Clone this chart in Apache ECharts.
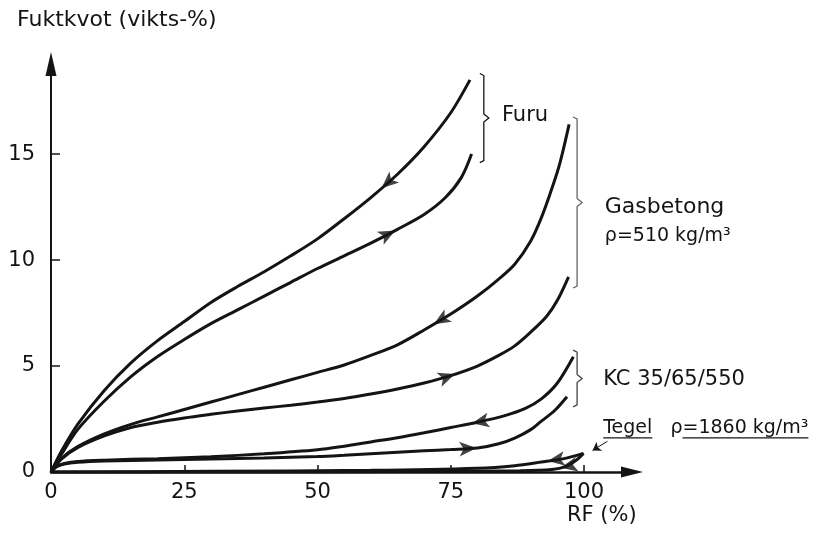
<!DOCTYPE html>
<html>
<head>
<meta charset="utf-8">
<script src="https://cdn.jsdelivr.net/npm/echarts@6/dist/echarts.min.js"></script>
<style>
  html, body { margin: 0; padding: 0; background: #fff; }
  #chart { width: 813px; height: 534px; }
</style>
</head>
<body>
<div id="chart"></div>
<script>
// tick labels
const xTickLabels = [0, 25, 50, 75, 100]
const yTickLabels = [0, 5, 10, 15]

// sorption curves, [RF %, fuktkvot vikts-%]
const furuDes = [[0, 0], [2, 1.0], [5, 2.25], [10, 3.85], [15, 5.15], [20, 6.2], [25, 7.1], [30, 8.0], [35, 8.75], [40, 9.45], [45, 10.2], [50, 11.0], [55, 11.95], [60, 12.95], [65, 14.05], [70, 15.35], [75, 16.95], [78.6, 18.5]]
const furuAbs = [[0, 0], [2, 0.85], [5, 2.0], [10, 3.35], [15, 4.5], [20, 5.45], [25, 6.25], [30, 7.0], [35, 7.65], [40, 8.3], [45, 8.95], [50, 9.6], [55, 10.2], [60, 10.8], [65, 11.45], [70, 12.15], [74, 12.95], [77, 13.9], [78.9, 15.0]]
const gasDes = [[0, 0], [2, 0.65], [5, 1.2], [10, 1.8], [15, 2.25], [20, 2.6], [25, 2.95], [30, 3.3], [35, 3.65], [40, 4.0], [45, 4.35], [50, 4.7], [55, 5.05], [60, 5.5], [65, 6.0], [70, 6.7], [75, 7.45], [80, 8.3], [84, 9.1], [87, 9.8], [90, 10.9], [92, 12.0], [94, 13.4], [95.5, 14.6], [97.2, 16.4]]
const gasAbs = [[0, 0], [2, 0.62], [5, 1.15], [10, 1.7], [15, 2.1], [20, 2.35], [25, 2.55], [30, 2.72], [35, 2.88], [40, 3.02], [45, 3.15], [50, 3.3], [55, 3.47], [60, 3.68], [65, 3.92], [70, 4.2], [75, 4.55], [80, 5.0], [84, 5.5], [87, 5.95], [90, 6.6], [93, 7.35], [95, 8.1], [97.1, 9.21]]
const kcDes = [[0, 0], [1, 0.25], [2.5, 0.4], [5, 0.5], [10, 0.56], [20, 0.63], [30, 0.72], [40, 0.86], [50, 1.05], [55, 1.22], [60, 1.42], [65, 1.62], [70, 1.85], [75, 2.1], [80, 2.35], [85, 2.65], [89, 3.0], [92, 3.45], [95, 4.2], [98, 5.44]]
const kcAbs = [[0, 0], [1, 0.25], [2.5, 0.38], [5, 0.46], [10, 0.52], [20, 0.57], [30, 0.61], [40, 0.66], [50, 0.73], [55, 0.79], [60, 0.86], [65, 0.93], [70, 1.0], [75, 1.06], [80, 1.13], [84, 1.33], [87, 1.6], [90, 2.0], [92, 2.4], [94.5, 2.9], [96.8, 3.55]]
const tegelDes = [[0, 0], [30, 0.03], [60, 0.08], [80, 0.18], [87, 0.3], [92, 0.47], [96, 0.62], [99.9, 0.88]]
const tegelAbs = [[0, 0], [40, 0], [70, 0.03], [88, 0.06], [94, 0.12], [96.5, 0.25], [98.5, 0.55], [99.9, 0.88]]

const curveData = { furuDes, furuAbs, gasDes, gasAbs, kcDes, kcAbs, tegelDes, tegelAbs }

// direction arrows: [curve, RF at arrow, +1 = towards higher RF]
const arrowSpots = [
  ['furuDes', 62.0, -1],
  ['furuAbs', 64.6, 1],
  ['gasDes', 71.8, -1],
  ['gasAbs', 75.8, 1],
  ['kcDes', 79.0, -1],
  ['kcAbs', 79.8, 1],
  ['tegelDes', 93.2, -1],
  ['tegelAbs', 95.6, -1],
]

const INK = '#141414'
const FONT = '"DejaVu Sans", sans-serif'

const dom = document.getElementById('chart')
const chart = echarts.init(dom, null, { renderer: 'canvas' })

let option = {
  animation: false,
  backgroundColor: '#fff',
  title: [
    { text: 'Fuktkvot (vikts-%)', left: 17, top: 9, padding: 0,
      textStyle: { fontFamily: FONT, fontWeight: 'normal', fontSize: 22, color: INK } },
    { text: 'RF (%)', left: 567, top: 505, padding: 0,
      textStyle: { fontFamily: FONT, fontWeight: 'normal', fontSize: 21, color: INK } },
  ],
  grid: { left: 51, right: 181, top: 64, bottom: 62, containLabel: false, outerBoundsMode: 'none' },
  xAxis: {
    type: 'value', min: 0, max: 109, interval: 25,
    splitLine: { show: false },
    axisLine: { show: true, lineStyle: { color: INK, width: 2.5 }, symbol: ['none', 'triangle'], symbolSize: [11, 22] },
    axisTick: { show: true, inside: true, length: 7, lineStyle: { color: INK, width: 1.5 } },
    axisLabel: {
      margin: 10, fontFamily: FONT, fontSize: 21, color: INK, showMaxLabel: false,
      formatter: (v) => (xTickLabels.includes(v) ? String(v) : ''),
    },
  },
  yAxis: {
    type: 'value', min: 0, max: 19.25, interval: 5,
    splitLine: { show: false },
    axisLine: { show: true, lineStyle: { color: INK, width: 2 }, symbol: ['none', 'triangle'], symbolSize: [11, 24] },
    axisTick: { show: true, inside: true, length: 9, lineStyle: { color: INK, width: 1.5 } },
    axisLabel: {
      margin: 16, fontFamily: FONT, fontSize: 21, color: INK, showMaxLabel: false,
      formatter: (v) => (yTickLabels.includes(v) ? String(v) : ''),
    },
  },
  series: Object.keys(curveData).map((k) => ({
    id: k,
    name: k,
    type: 'line',
    data: curveData[k],
    smooth: 0.3,
    symbol: 'none',
    silent: true,
    lineStyle: { color: INK, width: 3 },
    z: 3,
  })),
}
chart.setOption(option)

const toPx = (p) => chart.convertToPixel({ gridIndex: 0 }, p)

// arrow marker sitting on a curve, turned along it
function arrowItem([key, x, dir]) {
  const pts = curveData[key]
  const i = pts.findIndex((p, k) => k < pts.length - 1 && x >= p[0] && x <= pts[k + 1][0])
  const a = pts[i], b = pts[i + 1]
  const t = (x - a[0]) / (b[0] - a[0])
  const y = a[1] + t * (b[1] - a[1])
  const pa = toPx(a), pb = toPx(b)
  const ang = Math.atan2(-(pb[1] - pa[1]) * dir, (pb[0] - pa[0]) * dir) * 180 / Math.PI
  return { value: [x, y], symbolRotate: ang - 90 }
}

function brace(x, yTop, yBot, color) {
  const [px, pt] = toPx([x, yTop])
  const pb = toPx([x, yBot])[1]
  const pm = (pt + pb) / 2
  return {
    type: 'polyline', silent: true,
    shape: { points: [[px - 4, pt], [px, pt + 2], [px, pm - 4], [px + 5, pm], [px, pm + 4], [px, pb - 2], [px - 4, pb]] },
    style: { stroke: color, lineWidth: 1.3, fill: null },
  }
}

function label(text, x, y, size) {
  const [px, py] = toPx([x, y])
  return {
    type: 'text', silent: true,
    style: { text, x: px, y: py, font: size + 'px ' + FONT, fill: INK, align: 'left', verticalAlign: 'middle' },
  }
}

// underline under parts of the Tegel label
const ctx = document.createElement('canvas').getContext('2d')
const textW = (s, size) => { ctx.font = size + 'px ' + FONT; return ctx.measureText(s).width }
const tegelText = 'Tegel   ρ=1860 kg/m³'
const tegelPos = toPx([103.6, 2.08])
const ulY = tegelPos[1] + 10
const ul1 = [tegelPos[0], tegelPos[0] + textW('Tegel', 19)]
const ul2 = [tegelPos[0] + textW('Tegel   ρ', 19), tegelPos[0] + textW(tegelText, 19)]

chart.setOption({
  series: [
    {
      id: 'arrows', type: 'scatter', silent: true, z: 4,
      symbol: 'arrow', symbolSize: [11, 17],
      itemStyle: { color: INK },
      data: arrowSpots.map(arrowItem),
    },
    {
      id: 'leader', type: 'line', data: [], silent: true,
      markLine: {
        silent: true, animation: false,
        symbol: ['none', 'arrow'], symbolSize: 8,
        label: { show: false },
        lineStyle: { color: INK, width: 1, type: 'solid' },
        data: [[{ coord: [104.4, 1.45] }, { coord: [101.6, 1.02] }]],
      },
    },
  ],
  graphic: [
    brace(81.2, 18.8, 14.6, INK),
    brace(98.7, 16.75, 8.68, '#666'),
    brace(98.7, 5.75, 3.07, '#444'),
    label('Furu', 84.6, 16.84, 21),
    label('Gasbetong', 103.9, 12.5, 22),
    label('ρ=510 kg/m³', 103.9, 11.13, 19),
    label('KC 35/65/550', 103.6, 4.34, 21),
    label(tegelText, 103.6, 2.08, 19),
    { type: 'line', silent: true, shape: { x1: ul1[0], y1: ulY, x2: ul1[1], y2: ulY }, style: { stroke: INK, lineWidth: 1.2 } },
    { type: 'line', silent: true, shape: { x1: ul2[0], y1: ulY, x2: ul2[1], y2: ulY }, style: { stroke: INK, lineWidth: 1.2 } },
  ],
})

window.addEventListener('resize', () => chart.resize())
</script>
</body>
</html>
